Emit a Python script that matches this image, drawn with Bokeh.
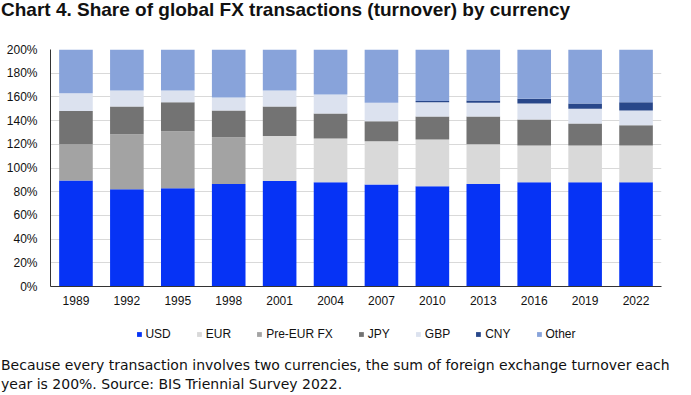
from bokeh.plotting import figure
from bokeh.layouts import column
from bokeh.models import (ColumnDataSource, FactorRange, Range1d, Legend, LegendItem,
                          PrintfTickFormatter, FixedTicker, Div)
from bokeh.embed import file_html
from bokeh.resources import INLINE

years = ["1989", "1992", "1995", "1998", "2001", "2004", "2007", "2010", "2013", "2016", "2019", "2022"]
usd = [89.5, 82, 83, 86.5, 89, 88, 86, 84.5, 86.5, 88, 88, 88]
eur = [0, 0, 0, 0, 38, 37, 36.5, 39.5, 33.5, 31, 31, 31]
pre_eur = [30.5, 46.5, 48, 39.5, 0, 0, 0, 0, 0, 0, 0, 0]
jpy = [28, 23.5, 24.5, 22.5, 25, 21, 17, 19.5, 23.5, 22, 18.5, 17]
gbp = [15, 13.5, 10, 11, 13.5, 16, 15.5, 12, 11.5, 13.5, 12.5, 12.5]
cny = [0, 0, 0, 0, 0, 0, 0, 1, 2, 4, 4.5, 7]
other = [37, 34.5, 34.5, 40.5, 34.5, 38, 45, 43.5, 43, 41.5, 45.5, 44.5]

series = ["USD", "EUR", "Pre-EUR FX", "JPY", "GBP", "CNY", "Other"]
colors = ["#0633f5", "#d9d9d9", "#a3a3a3", "#737373", "#dce2ef", "#28478a", "#88a3da"]
y_ticks = [0, 20, 40, 60, 80, 100, 120, 140, 160, 180, 200]

title_text = "Chart 4. Share of global FX transactions (turnover) by currency"
note1 = "Because every transaction involves two currencies, the sum of foreign exchange turnover each"
note2 = "year is 200%. Source: BIS Triennial Survey 2022."

W = 689

source = ColumnDataSource(dict(year=years, USD=usd, EUR=eur, **{"Pre-EUR FX": pre_eur},
                               JPY=jpy, GBP=gbp, CNY=cny, Other=other))

title_div = Div(
    text=('<div style="position:relative;left:-4px;top:-6px;font-family:\'Liberation Sans\';'
          'font-weight:bold;font-size:19px;line-height:22px;color:#111;white-space:nowrap;">'
          + title_text + '</div>'),
    width=W, height=22)

x_range = FactorRange(factors=years, range_padding=0)

p = figure(x_range=x_range, y_range=Range1d(0, 200),
           width=W, height=282, output_backend="svg", toolbar_location=None,
           min_border_left=50, min_border_right=1, min_border_top=17, min_border_bottom=28)

renderers = p.vbar_stack(series, x="year", width=0.66, source=source,
                         fill_color=colors, line_color=None)

p.outline_line_color = None
p.xgrid.grid_line_color = None
p.ygrid.grid_line_color = "#d9d9d9"
p.ygrid.grid_line_width = 1

p.yaxis.ticker = FixedTicker(ticks=y_ticks)
p.yaxis.formatter = PrintfTickFormatter(format="%d%%")
for ax in (p.xaxis, p.yaxis):
    ax.major_tick_line_color = None
    ax.minor_tick_line_color = None
    ax.axis_line_color = "#333333"
    ax.axis_line_width = 1
    ax.major_label_text_font = "Liberation Sans"
    ax.major_label_text_font_size = "12px"
    ax.major_label_text_color = "#111111"
p.yaxis.major_label_standoff = 7
p.xaxis.major_label_standoff = 3

# legend lives in a slim figure below the chart; its swatches come from the same data
p_leg = figure(x_range=x_range, y_range=Range1d(1000, 1001), width=W, height=40,
               output_backend="svg", toolbar_location=None,
               x_axis_location=None, y_axis_location=None,
               min_border_left=0, min_border_right=28, min_border_top=0, min_border_bottom=0)
p_leg.outline_line_color = None
p_leg.grid.visible = False
leg_renderers = p_leg.vbar_stack(series, x="year", width=0.66, source=source,
                                 fill_color=colors, line_color=None)

items = [LegendItem(label=s, renderers=[r]) for s, r in zip(series, leg_renderers)]
legend = Legend(items=items, orientation="horizontal", location="center",
                glyph_width=6, glyph_height=6, label_standoff=4, spacing=25,
                label_text_font="Liberation Sans", label_text_font_size="12px",
                label_text_color="#111111", border_line_color=None,
                background_fill_alpha=0, padding=2, margin=0)
p_leg.add_layout(legend, "center")

note_div = Div(
    text=('<div style="position:relative;left:-4px;top:-3px;font-family:\'DejaVu Sans\';'
          'font-size:14px;line-height:19px;color:#111;white-space:nowrap;">'
          + note1 + '<br>' + note2 + '</div>'),
    width=W, height=38)

layout = column(title_div, p, p_leg, note_div)
open("out.html", "w").write(file_html(layout, INLINE))
